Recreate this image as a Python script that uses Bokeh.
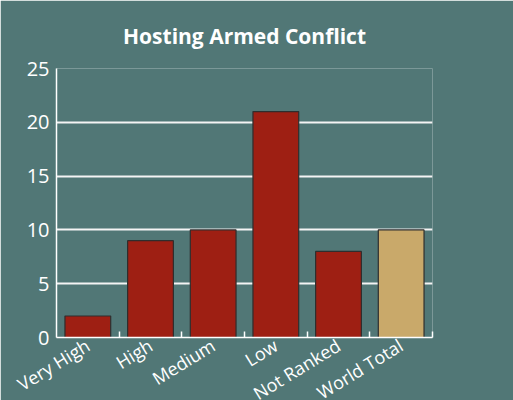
from bokeh.plotting import figure
from bokeh.models import ColumnDataSource, FixedTicker, Range1d
from bokeh.embed import file_html
from bokeh.resources import INLINE

categories = ["Very High", "High", "Medium", "Low", "Not Ranked", "World Total"]
values = [2, 9, 10, 21, 8, 10]
colors = ["#9e1f13", "#9e1f13", "#9e1f13", "#9e1f13", "#9e1f13", "#c9a96a"]
y_ticks = [0, 5, 10, 15, 20, 25]
title_text = "Hosting Armed Conflict"

BG = "#517776"
FONT = "Open Sans"

centers = [i + 0.5 for i in range(len(categories))]
src = ColumnDataSource(dict(x=centers, top=values, color=colors, cat=categories))

p = figure(frame_width=376, frame_height=269, output_backend="svg", toolbar_location=None,
           x_range=Range1d(0, len(categories)), y_range=Range1d(0, 25),
           min_border_left=56, min_border_right=81, min_border_top=68, min_border_bottom=63,
           background_fill_color=BG, border_fill_color=BG, outline_line_color=None)

p.title.text = title_text
p.title.align = "center"
p.title.text_color = "white"
p.title.text_font = FONT
p.title.text_font_style = "bold"
p.title.text_font_size = "21px"
p.title.standoff = 37

p.vbar(x="x", top="top", width=0.73, bottom=0, source=src, fill_color="color",
       line_color="#2e2e2e", line_width=1.2)

# y axis
p.yaxis.ticker = FixedTicker(ticks=y_ticks)
p.yaxis.axis_line_color = "white"
p.yaxis.axis_line_width = 1.5
p.yaxis.major_tick_line_color = None
p.yaxis.major_tick_out = 0
p.yaxis.major_tick_in = 0
p.yaxis.minor_tick_line_color = None
p.yaxis.major_label_text_color = "white"
p.yaxis.major_label_text_font = FONT
p.yaxis.major_label_text_font_size = "20px"
p.yaxis.major_label_standoff = 7

# x axis: boundary ticks pointing inward, category names at the centres
p.xaxis.ticker = FixedTicker(ticks=centers, minor_ticks=list(range(1, len(categories) + 1)))
p.xaxis.axis_line_color = "white"
p.xaxis.axis_line_width = 1.5
p.xaxis.major_tick_line_color = None
p.xaxis.major_tick_out = 0
p.xaxis.major_tick_in = 0
p.xaxis.minor_tick_line_color = "white"
p.xaxis.minor_tick_line_width = 1.5
p.xaxis.minor_tick_in = 6
p.xaxis.minor_tick_out = 0
p.xaxis.major_label_overrides = {c: cat for c, cat in zip(centers, categories)}
p.xaxis.major_label_orientation = 0.55
p.xaxis.major_label_text_color = "white"
p.xaxis.major_label_text_font = FONT
p.xaxis.major_label_text_font_size = "18px"
p.xaxis.major_label_standoff = 6

p.xgrid.grid_line_color = None
p.ygrid.grid_line_color = "#f4f4f4"
p.ygrid.grid_line_width = 1.8
p.ygrid.level = "image"

open("out.html", "w").write(file_html(p, INLINE))
